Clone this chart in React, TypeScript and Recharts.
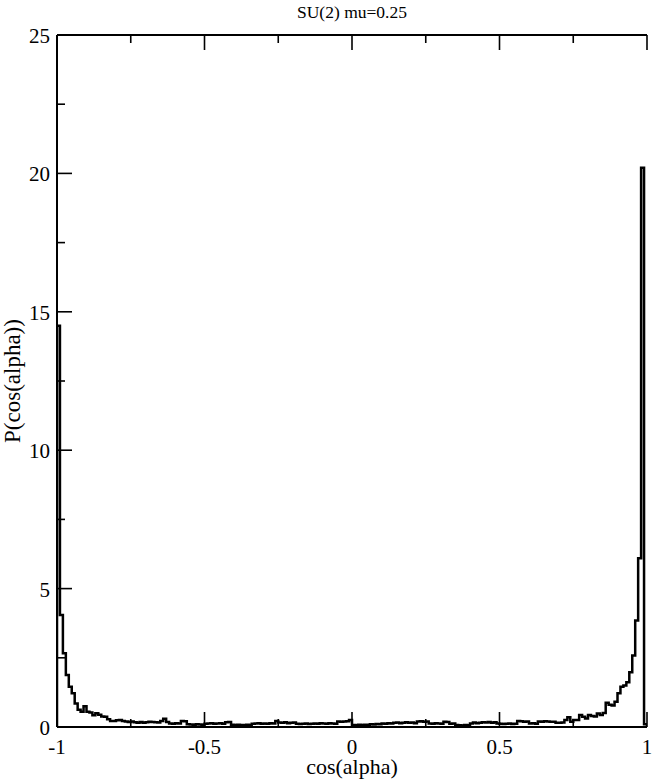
import React from 'react';
import { LineChart, Line, XAxis, YAxis } from 'recharts';

// Histogram of cos(alpha), bins of width 0.01 starting at -1
const binStart = -1;
const binWidth = 0.01;
const density = [
  14.5, 4.05, 2.66, 1.88, 1.45, 1.22, 0.85, 0.62, 0.55, 0.75,
  0.55, 0.52, 0.42, 0.5, 0.44, 0.38, 0.37, 0.28, 0.22, 0.22,
  0.24, 0.25, 0.22, 0.2, 0.18, 0.2, 0.17, 0.15, 0.18, 0.15,
  0.17, 0.19, 0.18, 0.17, 0.16, 0.22, 0.3, 0.18, 0.13, 0.12,
  0.14, 0.13, 0.22, 0.21, 0.1, 0.09, 0.08, 0.1, 0.09, 0.08,
  0.12, 0.13, 0.14, 0.12, 0.13, 0.14, 0.12, 0.17, 0.18, 0.08,
  0.07, 0.08, 0.07, 0.06, 0.08, 0.07, 0.12, 0.13, 0.14, 0.12,
  0.13, 0.12, 0.14, 0.13, 0.22, 0.16, 0.15, 0.17, 0.14, 0.15,
  0.16, 0.12, 0.11, 0.12, 0.13, 0.11, 0.12, 0.13, 0.12, 0.14,
  0.13, 0.12, 0.14, 0.13, 0.12, 0.2, 0.19, 0.2, 0.21, 0.25,
  0.07, 0.06, 0.08, 0.07, 0.08, 0.07, 0.1, 0.09, 0.11, 0.1,
  0.13, 0.12, 0.14, 0.13, 0.15, 0.16, 0.14, 0.15, 0.17, 0.15,
  0.16, 0.14, 0.2, 0.21, 0.19, 0.2, 0.13, 0.12, 0.14, 0.13,
  0.12, 0.19, 0.18, 0.12, 0.13, 0.07, 0.06, 0.05, 0.07, 0.06,
  0.13, 0.16, 0.14, 0.15, 0.17, 0.16, 0.18, 0.15, 0.17, 0.13,
  0.12, 0.11, 0.12, 0.13, 0.11, 0.12, 0.22, 0.21, 0.19, 0.2,
  0.13, 0.14, 0.12, 0.2, 0.19, 0.21, 0.2, 0.19, 0.19, 0.15,
  0.15, 0.16, 0.25, 0.35, 0.19, 0.25, 0.25, 0.43, 0.37, 0.31,
  0.43, 0.4, 0.38, 0.49, 0.43, 0.51, 0.88, 0.8, 0.78, 0.91,
  1.22, 1.45, 1.5, 1.62, 1.98, 2.58, 3.85, 6.1, 20.2, 0.1,
];

const xTicks = [-1, -0.75, -0.5, -0.25, 0, 0.25, 0.5, 0.75, 1];
const xMajor = [-1, -0.5, 0, 0.5, 1];
const yTicks = [0, 2.5, 5, 7.5, 10, 12.5, 15, 17.5, 20, 22.5, 25];
const yMajor = [0, 5, 10, 15, 20, 25];

const title = 'SU(2) mu=0.25';
const xLabel = 'cos(alpha)';
const yLabel = 'P(cos(alpha))';

const xMax = binStart + density.length * binWidth;
const data = [
  { x: binStart, p: 0 },
  ...density.map((p, i) => ({ x: Number((binStart + i * binWidth).toFixed(2)), p })),
  { x: Number(xMax.toFixed(2)), p: density[density.length - 1] },
  { x: Number(xMax.toFixed(2)), p: 0 },
];

const FONT = '"Liberation Serif", "Times New Roman", serif';
const MAJOR = 15;
const MINOR = 8;
const TICK_W = 1.6;

const BottomTick = (props: any) => {
  const { x, y, payload } = props;
  const v = payload.value;
  const major = xMajor.includes(v);
  return (
    <g>
      <line x1={x} y1={y} x2={x} y2={y - (major ? MAJOR : MINOR)} stroke="#000" strokeWidth={TICK_W} />
      {major && (
        <text x={x} y={y + 27} textAnchor="middle" fontSize={21} fontFamily={FONT} fill="#000">
          {String(v)}
        </text>
      )}
    </g>
  );
};

const TopTick = (props: any) => {
  const { x, y, payload } = props;
  const major = xMajor.includes(payload.value);
  return <line x1={x} y1={y} x2={x} y2={y + (major ? MAJOR : MINOR)} stroke="#000" strokeWidth={TICK_W} />;
};

const LeftTick = (props: any) => {
  const { x, y, payload } = props;
  const v = payload.value;
  const major = yMajor.includes(v);
  return (
    <g>
      <line x1={x} y1={y} x2={x + (major ? MAJOR : MINOR)} y2={y} stroke="#000" strokeWidth={TICK_W} />
      {major && (
        <text x={x - 7} y={y + 8} textAnchor="end" fontSize={21} fontFamily={FONT} fill="#000">
          {String(v)}
        </text>
      )}
    </g>
  );
};

const RightTick = (props: any) => {
  const { x, y, payload } = props;
  const major = yMajor.includes(payload.value);
  return <line x1={x} y1={y} x2={x - (major ? MAJOR : MINOR)} y2={y} stroke="#000" strokeWidth={TICK_W} />;
};

const axisLine = { stroke: '#000', strokeWidth: 2 };

export default function App() {
  return (
    <div style={{ position: 'absolute', left: 0, top: 0, width: 654, height: 779, background: '#fff' }}>
      <LineChart width={654} height={779} data={data} margin={{ top: 0, right: 7, bottom: 0, left: 0 }}>
        <XAxis
          dataKey="x"
          type="number"
          domain={[-1, 1]}
          ticks={xTicks}
          interval={0}
          allowDataOverflow
          tickSize={0}
          tickMargin={0}
          tickLine={false}
          axisLine={axisLine}
          height={52}
          tick={<BottomTick />}
          label={{ value: xLabel, position: 'insideBottom', offset: 5, fontSize: 22, fontFamily: FONT, fill: '#000' }}
        />
        <XAxis
          xAxisId="top"
          dataKey="x"
          type="number"
          orientation="top"
          domain={[-1, 1]}
          ticks={xTicks}
          interval={0}
          allowDataOverflow
          tickSize={0}
          tickMargin={0}
          tickLine={false}
          axisLine={axisLine}
          height={35}
          tick={<TopTick />}
          label={{ value: title, position: 'insideTop', offset: 6, fontSize: 17.5, fontFamily: FONT, fill: '#000' }}
        />
        <YAxis
          type="number"
          domain={[0, 25]}
          ticks={yTicks}
          interval={0}
          allowDataOverflow
          tickSize={0}
          tickMargin={0}
          tickLine={false}
          axisLine={axisLine}
          width={57}
          tick={<LeftTick />}
          label={{ value: yLabel, angle: -90, position: 'insideLeft', offset: 12, fontSize: 23, fontFamily: FONT, fill: '#000', style: { textAnchor: 'middle' } }}
        />
        <YAxis
          yAxisId="right"
          type="number"
          orientation="right"
          domain={[0, 25]}
          ticks={yTicks}
          interval={0}
          allowDataOverflow
          tickSize={0}
          tickMargin={0}
          tickLine={false}
          axisLine={axisLine}
          width={0}
          tick={<RightTick />}
        />
        <Line
          type="stepAfter"
          dataKey="p"
          stroke="#000"
          strokeWidth={2.5}
          dot={false}
          activeDot={false}
          isAnimationActive={false}
        />
      </LineChart>
    </div>
  );
}
